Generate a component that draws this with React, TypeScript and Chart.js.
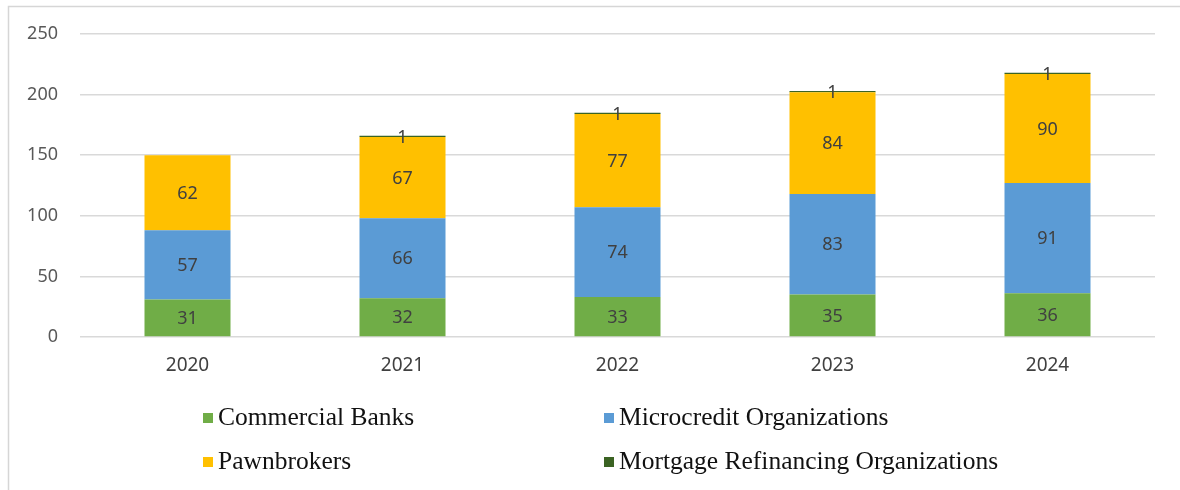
import React, { useEffect, useRef } from "react";
import { Chart, registerables } from "chart.js";

Chart.register(...registerables);

const years = ["2020", "2021", "2022", "2023", "2024"];
const commercialBanks = [31, 32, 33, 35, 36];
const microcredit = [57, 66, 74, 83, 91];
const pawnbrokers = [62, 67, 77, 84, 90];
const mortgageRefinancing = [0, 1, 1, 1, 1];

const seriesNames = [
  "Commercial Banks",
  "Microcredit Organizations",
  "Pawnbrokers",
  "Mortgage Refinancing Organizations",
];
const seriesColors = ["#70AD47", "#5B9BD5", "#FFC000", "#3B6323"];
const yTicks = [0, 50, 100, 150, 200, 250];

const framePlugin = {
  id: "frame",
  beforeDraw(chart: any) {
    const ctx = chart.ctx;
    ctx.save();
    ctx.strokeStyle = "#d6d6d6";
    ctx.lineWidth = 1.5;
    ctx.beginPath();
    ctx.moveTo(8.5, 490);
    ctx.lineTo(8.5, 6.5);
    ctx.lineTo(1180, 6.5);
    ctx.stroke();
    ctx.restore();
  },
};

const valueLabelPlugin = {
  id: "valueLabels",
  afterDatasetsDraw(chart: any) {
    const ctx = chart.ctx;
    ctx.save();
    ctx.font = "18px 'Noto Sans'";
    ctx.fillStyle = "#404040";
    ctx.textAlign = "center";
    ctx.textBaseline = "middle";
    chart.data.datasets.forEach((ds: any, di: number) => {
      const meta = chart.getDatasetMeta(di);
      meta.data.forEach((bar: any, i: number) => {
        const v = ds.data[i];
        if (!v) return;
        const y = (bar.y + bar.base) / 2;
        ctx.fillText(String(v), bar.x, y + 1);
      });
    });
    ctx.restore();
  },
};

const legendPlugin = {
  id: "gridLegend",
  afterDraw(chart: any) {
    const ctx = chart.ctx;
    const cols = [203, 604];
    const rows = [418, 462];
    ctx.save();
    ctx.font = "25.5px 'Liberation Serif'";
    ctx.textBaseline = "middle";
    ctx.textAlign = "left";
    chart.data.datasets.forEach((ds: any, i: number) => {
      const x = cols[i % 2];
      const y = rows[Math.floor(i / 2)];
      ctx.fillStyle = ds.backgroundColor;
      ctx.fillRect(x, y - 5, 10, 10);
      ctx.fillStyle = "#111111";
      ctx.fillText(ds.label, x + 15, y);
    });
    ctx.restore();
  },
};

export default function App() {
  const canvasRef = useRef<HTMLCanvasElement | null>(null);

  useEffect(() => {
    if (!canvasRef.current) return;
    const seriesData = [commercialBanks, microcredit, pawnbrokers, mortgageRefinancing];
    const chart = new Chart(canvasRef.current, {
      type: "bar",
      data: {
        labels: years,
        datasets: seriesNames.map((name, i) => ({
          label: name,
          data: seriesData[i],
          backgroundColor: seriesColors[i],
          borderWidth: 0,
          categoryPercentage: 0.8,
          barPercentage: 0.5,
        })),
      },
      options: {
        animation: false,
        responsive: false,
        maintainAspectRatio: false,
        layout: { padding: { left: 0, right: 25, top: 34, bottom: 93 } },
        plugins: {
          legend: { display: false },
          tooltip: { enabled: false },
          title: { display: false },
        },
        scales: {
          x: {
            stacked: true,
            grid: { display: false, drawTicks: false },
            border: { display: false },
            ticks: {
              color: "#404040",
              font: { family: "'Noto Sans'", size: 19 },
              padding: 17,
            },
            afterFit(scale: any) {
              scale.height = 60;
            },
          },
          y: {
            stacked: true,
            min: 0,
            max: 250,
            afterBuildTicks(scale: any) {
              scale.ticks = yTicks.map((v) => ({ value: v }));
            },
            grid: { color: "#d9d9d9", lineWidth: 1.5, drawTicks: false },
            border: { display: false },
            ticks: {
              color: "#595959",
              font: { family: "'Noto Sans'", size: 18 },
              padding: 22,
            },
            afterFit(scale: any) {
              scale.width = 80;
            },
          },
        },
      },
      plugins: [framePlugin, valueLabelPlugin, legendPlugin],
    });
    return () => chart.destroy();
  }, []);

  return (
    <div style={{ position: "fixed", left: 0, top: 0, width: 1180, height: 490, background: "#fff" }}>
      <canvas ref={canvasRef} width={1180} height={490} style={{ width: 1180, height: 490 }} />
    </div>
  );
}
